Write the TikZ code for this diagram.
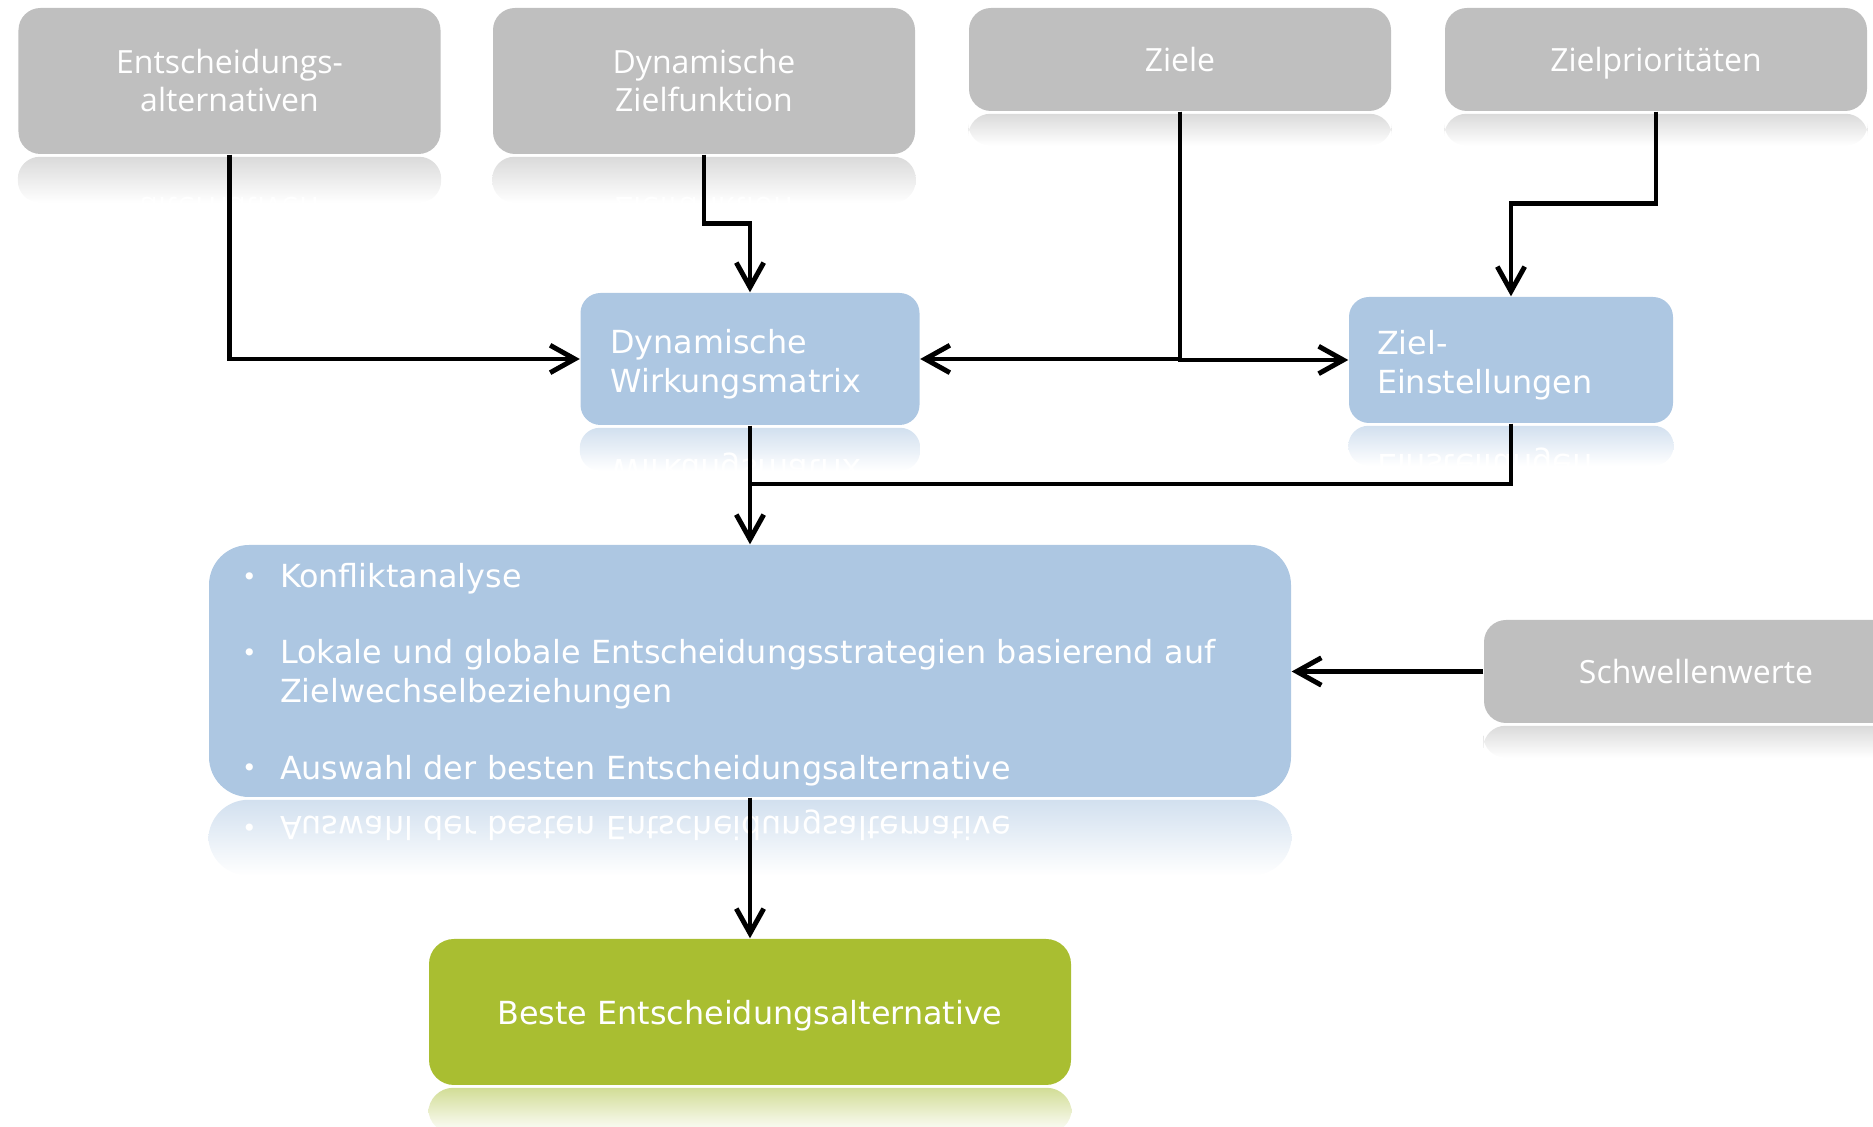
\documentclass[tikz,border=0pt]{standalone}
\usepackage{fontspec}
\newfontfamily\grayfont{Open Sans}
\newfontfamily\bluefont{DejaVu Sans}
\usetikzlibrary{arrows.meta,calc}

\definecolor{boxgray}{RGB}{191,191,191}
\definecolor{boxblue}{RGB}{173,199,226}
\definecolor{boxgreen}{RGB}{169,190,49}
\definecolor{reflgray}{RGB}{218,218,218}
\definecolor{reflblue}{RGB}{210,224,239}
\definecolor{reflgreen}{RGB}{210,221,150}

\tikzset{
	graybox/.style={fill=boxgray, rounded corners=0.22cm, text=white, font=\grayfont\fontsize{9.1}{10.8}\selectfont, align=center, minimum width=4.22cm, inner sep=0pt},
	bluebox/.style={fill=boxblue, rounded corners=0.2cm, text=white, font=\bluefont\fontsize{9.05}{11.1}\selectfont, align=left, inner xsep=0.28cm, inner ysep=0pt},
	greenbox/.style={fill=boxgreen, rounded corners=0.25cm, text=white, font=\bluefont\fontsize{9.05}{11.1}\selectfont, align=center, inner sep=0pt, text depth=0pt},
	link/.style={line width=1.4pt},
	arrow/.style={link, -{Straight Barb[length=7pt,width=7.8pt]}}
}

\newcommand{\reflect}[6]{%
	\begin{scope}
		\clip[rounded corners=#6] ([yshift=-0.6pt]#1.south west) rectangle ([yshift=-#4]#1.south east);
		\shade[top color=#5, bottom color=white] ([yshift=-0.6pt]#1.south west) rectangle ([yshift=-#4]#1.south east);
		\node[#2, fill=none, yscale=-1] at ($(#1.south)!-1!(#1.center)$) {#3};
	\end{scope}}

\newcommand{\dotitem}{\makebox[0.38cm][l]{\raisebox{0.6pt}{\fontsize{7}{7}\selectfont•}}}

\newcommand{\listtext}{%
	\rule{0pt}{8.9pt}\dotitem Konfliktanalyse\\[10.6pt]
	\dotitem Lokale und globale Entscheidungsstrategien basierend auf\\
	\hspace*{0.38cm}Zielwechselbeziehungen\\[10.6pt]
	\dotitem Auswahl der besten Entscheidungsalternative}

\begin{document}
\begin{tikzpicture}[x=1cm, y=-1cm]

	\useasboundingbox (0,0) rectangle (18.73,11.27);
	\clip (0,0) rectangle (18.73,11.27);

	\node[graybox, minimum height=1.46cm] (alt) at (2.295,0.81) {Entscheidungs-\\alternativen};
	\node[graybox, minimum height=1.46cm] (zfkt) at (7.04,0.81) {Dynamische\\Zielfunktion};
	\node[graybox, minimum height=1.03cm] (ziele) at (11.80,0.595) {Ziele};
	\node[graybox, minimum height=1.03cm, text depth=0pt] (prio) at (16.56,0.595) {Zielprioritäten};

	\node[bluebox, inner xsep=0.30cm, text width=2.79cm, minimum height=1.32cm] (matrix) at (7.50,3.59) {\rule{0pt}{9.6pt}Dynamische\\Wirkungsmatrix};
	\node[bluebox, text width=2.68cm, minimum height=1.26cm] (einst) at (15.11,3.60) {\rule{0pt}{9.6pt}Ziel-\\Einstellungen};

	\node[bluebox, rounded corners=0.4cm, inner xsep=0.33cm, text width=10.16cm, minimum height=2.52cm] (list) at (7.50,6.71) {\listtext};
	\node[graybox, minimum width=4.24cm, minimum height=1.03cm] (schwelle) at (16.96,6.715) {Schwellenwerte};

	\node[greenbox, minimum width=6.42cm, minimum height=1.46cm] (best) at (7.50,10.12) {Beste Entscheidungsalternative};

	\reflect{alt}{graybox, minimum height=1.46cm}{Entscheidungs-\\alternativen}{0.48cm}{reflgray}{0.22cm}
	\reflect{zfkt}{graybox, minimum height=1.46cm}{Dynamische\\Zielfunktion}{0.48cm}{reflgray}{0.22cm}
	\reflect{ziele}{graybox, minimum height=1.03cm}{}{0.34cm}{reflgray}{0.22cm}
	\reflect{prio}{graybox, minimum height=1.03cm}{}{0.34cm}{reflgray}{0.22cm}
	\reflect{matrix}{bluebox, inner xsep=0.30cm, text width=2.79cm, minimum height=1.32cm}{\rule{0pt}{9.6pt}Dynamische\\Wirkungsmatrix}{0.45cm}{reflblue}{0.2cm}
	\reflect{einst}{bluebox, text width=2.68cm, minimum height=1.26cm}{\rule{0pt}{9.6pt}Ziel-\\Einstellungen}{0.42cm}{reflblue}{0.2cm}
	\reflect{list}{bluebox, inner xsep=0.33cm, text width=10.16cm, minimum height=2.52cm}{\listtext}{0.78cm}{reflblue}{0.4cm}
	\reflect{schwelle}{graybox, minimum width=4.24cm, minimum height=1.03cm}{}{0.34cm}{reflgray}{0.22cm}
	\reflect{best}{greenbox, minimum width=6.42cm, minimum height=1.46cm}{}{0.48cm}{reflgreen}{0.25cm}

	\coordinate (join) at (7.50,4.84);

	\draw[arrow] (alt.south) |- (matrix.west);
	\draw[arrow] (zfkt.south) -- ++(0,0.69) -| (matrix.north);
	\draw[arrow] (ziele.south) |- (matrix.east);
	\draw[arrow] (ziele.south) |- (einst.west);
	\draw[arrow] (prio.south) -- ++(0,0.92) -| (einst.north);

	\draw[arrow] (matrix.south) -- (list.north);
	\draw[link] (einst.south) |- (join);
	\draw[arrow] (schwelle.west) -- (schwelle.west -| list.east);
	\draw[arrow] (list.south) -- (best.north);

\end{tikzpicture}
\end{document}
